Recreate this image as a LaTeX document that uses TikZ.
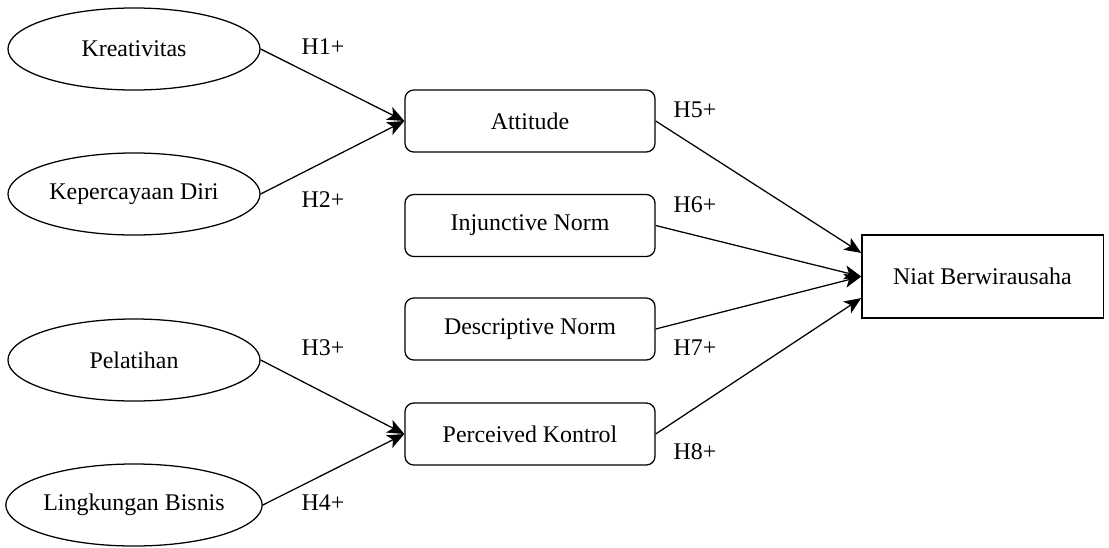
\documentclass[tikz,border=0pt]{standalone}
\usepackage{fontspec}
\setmainfont{Liberation Serif}
\usetikzlibrary{shapes.geometric,arrows.meta}
\tikzset{
  latent/.style={draw, ellipse, line width=0.9pt, minimum width=6.3cm, minimum height=2.05cm, inner sep=0pt},
  construct/.style={draw, rounded corners=0.22cm, line width=0.9pt, minimum width=6.25cm, minimum height=1.55cm, inner sep=0pt},
  outcome/.style={draw, line width=0.9pt, minimum width=6.03cm, minimum height=2.08cm, inner sep=0pt},
  hyp/.style={inner sep=0pt},
}
\begin{document}
\begin{tikzpicture}[x=0.025cm, y=-0.025cm, font=\fontsize{17}{20}\selectfont]
      \useasboundingbox (0,0) rectangle (1109,547);
      \draw
        (134,49) node[latent] (kreatif){Kreativitas}
        (134,194) node[latent] (percaya){Kepercayaan Diri}
        (134,360) node[latent] (latih){Pelatihan}
        (134,505) node[latent] (bisnis){Lingkungan Bisnis}
        (530,121) node[construct] (attitude){Attitude}
        (530,225.5) node[construct] (injunctive){Injunctive Norm}
        (530,329) node[construct] (descriptive){Descriptive Norm}
        (530,434) node[construct] (kontrol){Perceived Kontrol}
        (982.5,276.5) node[outcome] (niat){Niat Berwirausaha};
      \draw
        (323,47) node[hyp] (h1){H1+}
        (323,200) node[hyp] (h2){H2+}
        (323,348) node[hyp] (h3){H3+}
        (323,503) node[hyp] (h4){H4+}
        (695,110) node[hyp] (h5){H5+}
        (695,205) node[hyp] (h6){H6+}
        (695,348) node[hyp] (h7){H7+}
        (695,452) node[hyp] (h8){H8+};
      \coordinate (niat5) at ([yshift=0.59cm]niat.west);
      \coordinate (niat8) at ([yshift=-0.54cm]niat.west);
      \begin{scope}[-{Stealth[length=12pt,width=10pt,inset=3pt]}, line width=0.9pt]
        \draw (kreatif.east) to (attitude.west);
        \draw (percaya.east) to (attitude.west);
        \draw (latih.east) to (kontrol.west);
        \draw (bisnis.east) to (kontrol.west);
        \draw (attitude.east) to (niat5);
        \draw (injunctive.east) to (niat.west);
        \draw (descriptive.east) to (niat.west);
        \draw (kontrol.east) to (niat8);
      \end{scope}
    \end{tikzpicture}
\end{document}
